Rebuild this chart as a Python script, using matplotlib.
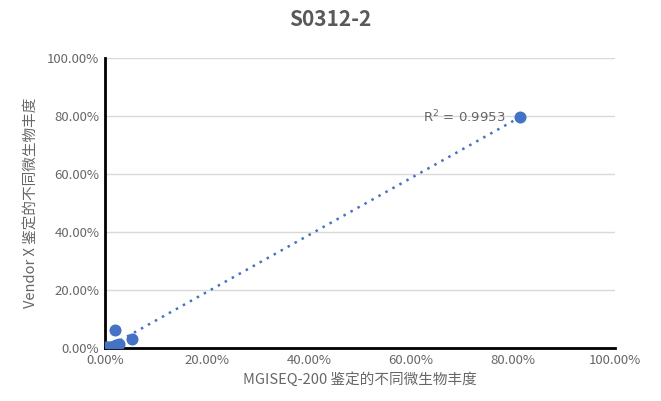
import matplotlib
matplotlib.use("Agg")
import matplotlib.pyplot as plt
import numpy as np
from matplotlib.ticker import PercentFormatter

plt.rcParams['font.family'] = ['Noto Sans CJK SC', 'DejaVu Sans']

mgiseq = [0.814, 0.053, 0.020, 0.027, 0.005, 0.010, 0.018, 0.002, 0.013, 0.022]
vendor = [0.797, 0.031, 0.062, 0.014, 0.005, 0.003, 0.008, 0.002, 0.004, 0.010]
r2_label = "0.9953"
title = "S0312-2"
xlabel = "MGISEQ-200 鉴定的不同微生物丰度"
ylabel = "Vendor X 鉴定的不同微生物丰度"

W, H = 661, 401
fig = plt.figure(figsize=(W/100, H/100), dpi=100)
ax = fig.add_axes([105/W, (H-348)/H, 510/W, 290/H])

x = np.array(mgiseq); y = np.array(vendor)
slope, icpt = np.polyfit(x, y, 1)

xs = np.array([x.min(), x.max()])
ax.plot(xs, slope*xs+icpt, color='#4472C4', linestyle=(0, (1, 2.2)), linewidth=1.8, zorder=2)
ax.scatter(x, y, s=75, color='#4472C4', zorder=3, linewidths=0)

ax.set_xlim(0, 1.0)
ax.set_ylim(0, 1.0)
ticks = np.arange(0, 1.01, 0.2)
ax.set_xticks(ticks); ax.set_yticks(ticks)
ax.xaxis.set_major_formatter(PercentFormatter(1.0, decimals=2))
ax.yaxis.set_major_formatter(PercentFormatter(1.0, decimals=2))
ax.grid(axis='y', color='#D9D9D9', linewidth=1)
ax.set_axisbelow(True)
for s in ['top', 'right']:
    ax.spines[s].set_visible(False)
for s in ['left', 'bottom']:
    ax.spines[s].set_color('black'); ax.spines[s].set_linewidth(2)
ax.tick_params(axis='both', length=0, labelsize=9.5, colors='#666666', pad=4)
ax.set_xlabel(xlabel, fontsize=10.5, color='#666666', labelpad=4)
ax.set_ylabel(ylabel, fontsize=10.5, color='#666666', labelpad=6)
fig.text(0.5, (H-20)/H, title, fontsize=15, fontweight='bold', color='#595959',
         ha='center', va='center')

ax.text(0.785, 0.797, "R$^2$ = " + r2_label, fontsize=9.5, color='#666666',
        ha='right', va='center', family='DejaVu Sans')

fig.savefig("out.png", dpi=100)
